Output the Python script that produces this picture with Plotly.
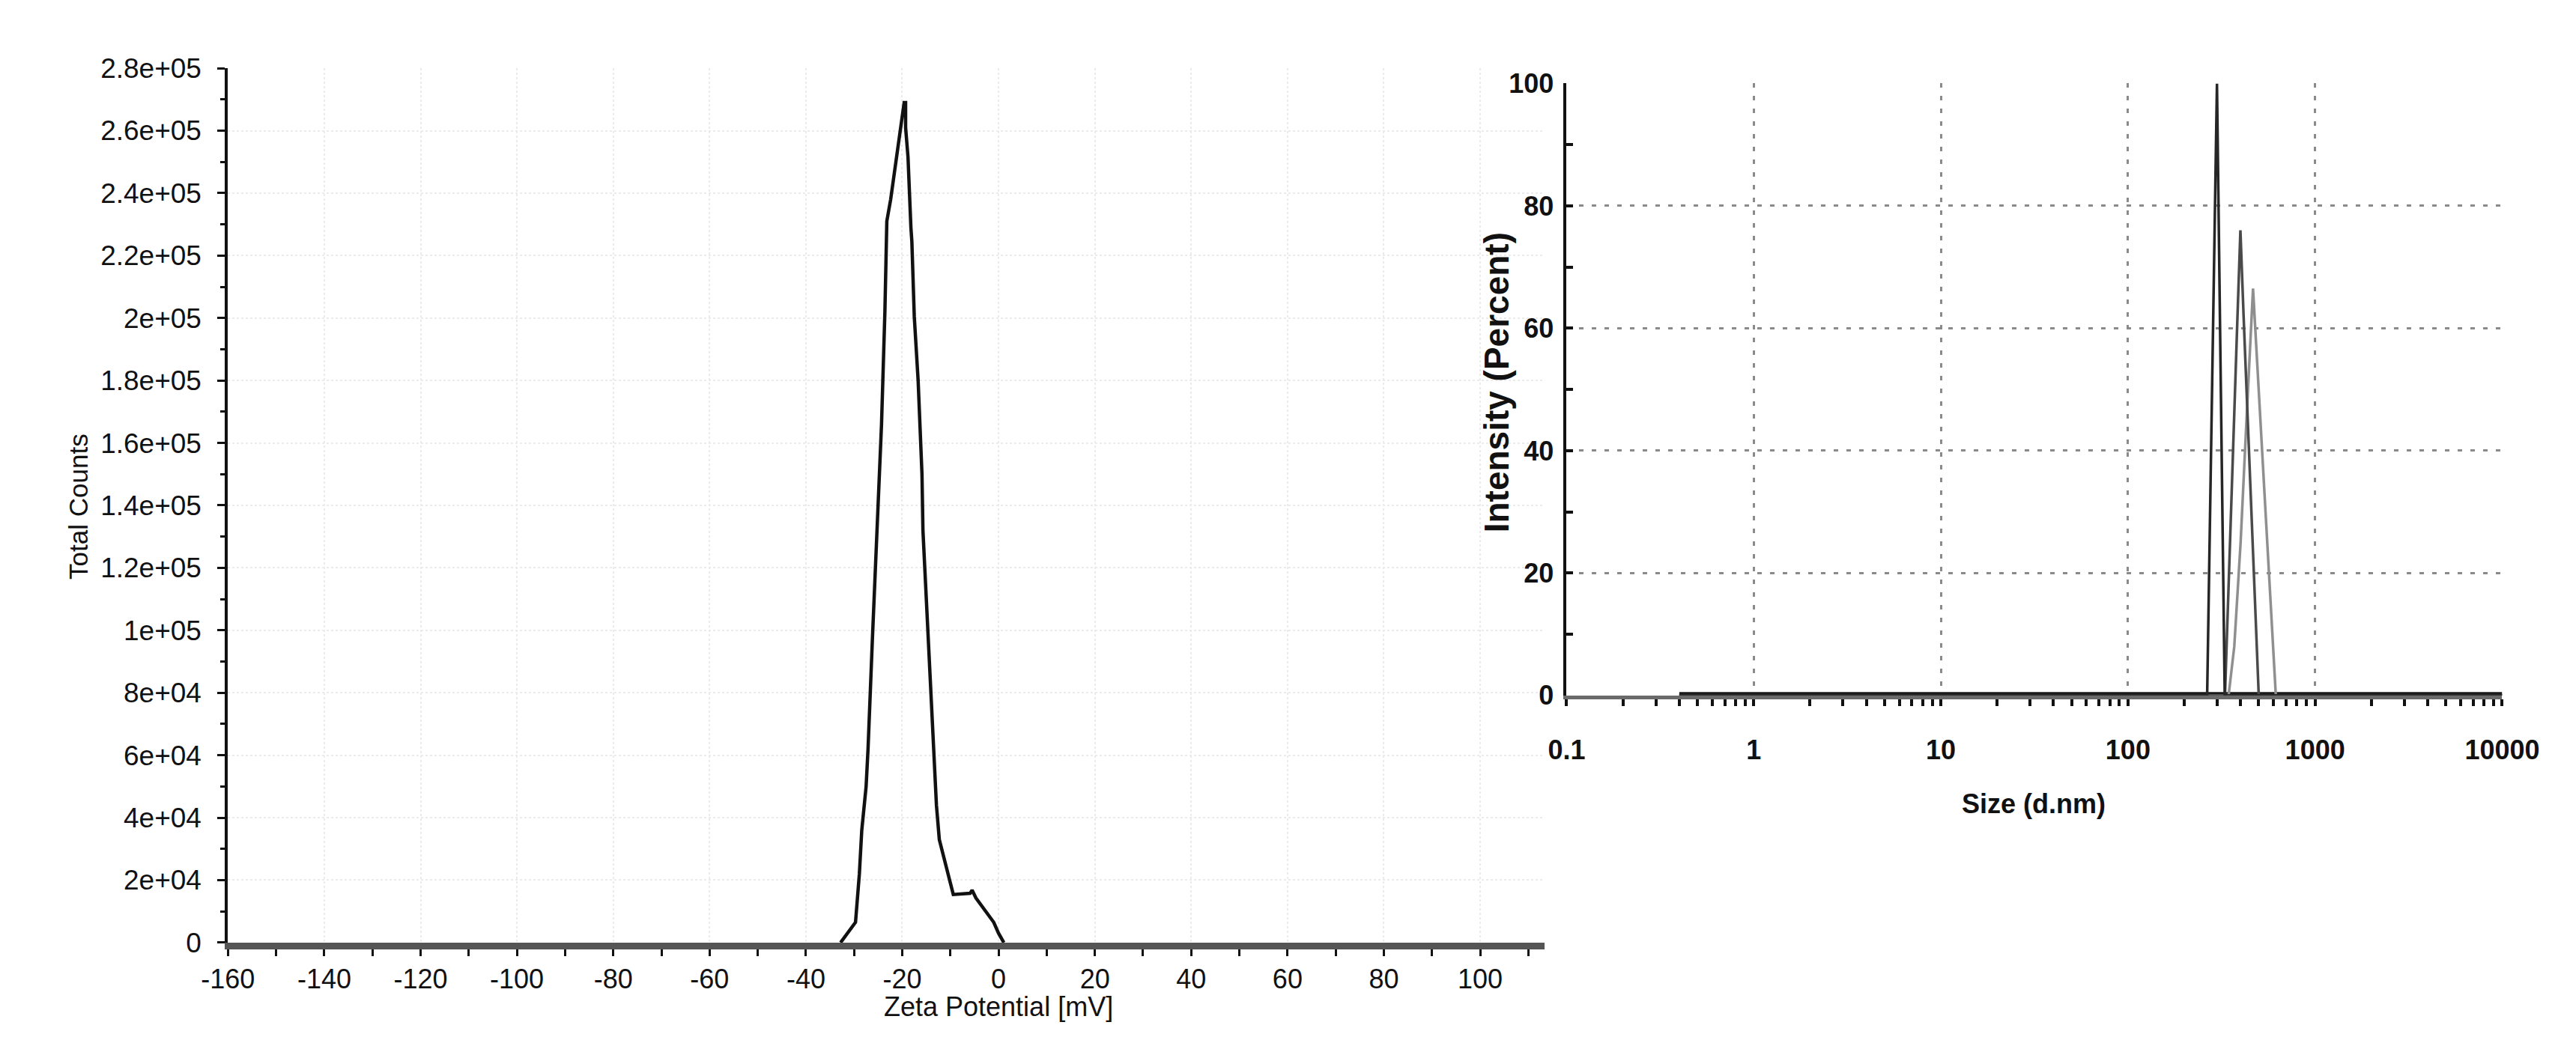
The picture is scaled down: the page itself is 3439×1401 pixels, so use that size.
import plotly.graph_objects as go

# left panel: zeta potential distribution
zeta_mv = [-32.8, -29.7, -28.9, -28.4, -27.5, -27.1, -26.2, -25.2, -24.3, -23.6,
           -23.2, -22.4, -21.8, -21.1, -20.4, -19.6, -19.3, -19.3, -18.8, -18.7,
           -18.2, -18.0, -17.5, -17.5, -16.7, -16.4, -15.9, -15.7, -14.6, -13.4,
           -12.9, -12.3, -9.4, -5.9, -5.5, -4.7, -2.4, -1.0, 0.0, 1.1]
total_counts = [0, 6500, 22000, 36000, 50000, 62000, 97000, 132000, 166000, 202000,
                231000, 238000, 245000, 252000, 260000, 269000, 269000, 261000, 251500, 247000,
                229000, 224500, 206000, 200500, 180000, 170500, 150000, 132000, 97000, 62000,
                44000, 33000, 15400, 15800, 16800, 14300, 9600, 6500, 3000, 0]

zeta_ticks = [-160, -140, -120, -100, -80, -60, -40, -20, 0, 20, 40, 60, 80, 100]
zeta_ticktext = ["-160", "-140", "-120", "-100", "-80", "-60", "-40", "-20", "0",
                 "20", "40", "60", "80", "100"]
count_ticks = [0, 20000, 40000, 60000, 80000, 100000, 120000, 140000, 160000,
               180000, 200000, 220000, 240000, 260000, 280000]
count_ticktext = ["0", "2e+04", "4e+04", "6e+04", "8e+04", "1e+05", "1.2e+05", "1.4e+05",
                  "1.6e+05", "1.8e+05", "2e+05", "2.2e+05", "2.4e+05", "2.6e+05", "2.8e+05"]

# right panel: size distribution by intensity, three runs
run1_size = [0.4, 265, 299, 329, 10000]
run1_int = [0, 0, 100, 0, 0]
run2_size = [0.4, 330, 383, 399, 415, 440, 500, 10000]
run2_int = [0, 0, 60, 76, 62, 43, 0, 0]
run3_size = [0.4, 345, 370, 400, 430, 455, 466, 617, 10000]
run3_int = [0, 0, 8, 25, 45, 60, 66.5, 0, 0]
base_size = [0.4, 10000]
base_int = [0, 0]

size_ticks = [0.1, 1, 10, 100, 1000, 10000]
size_ticktext = ["0.1", "1", "10", "100", "1000", "10000"]
int_ticks = [0, 20, 40, 60, 80, 100]

W, H = 3439, 1401
font_l = "Liberation Sans, Arial, sans-serif"
font_r = "Liberation Sans Narrow, Liberation Sans, Arial, sans-serif"

fig = go.Figure()

fig.add_trace(go.Scatter(x=zeta_mv, y=total_counts, mode="lines",
                         line=dict(color="#111111", width=4.5),
                         xaxis="x", yaxis="y", showlegend=False))

fig.add_trace(go.Scatter(x=base_size, y=base_int, mode="lines",
                         line=dict(color="#1a1a1a", width=9),
                         xaxis="x2", yaxis="y2", showlegend=False, cliponaxis=False))
for sx, sy, col in [(run3_size, run3_int, "#8f8f8f"),
                    (run2_size, run2_int, "#4a4a4a"),
                    (run1_size, run1_int, "#262626")]:
    fig.add_trace(go.Scatter(x=sx, y=sy, mode="lines",
                             line=dict(color=col, width=3.5),
                             xaxis="x2", yaxis="y2", showlegend=False))

minor_log = [m * 10 ** e for e in range(-1, 4) for m in range(2, 10)]

fig.update_layout(
    width=W, height=H, autosize=False,
    margin=dict(l=0, r=0, t=0, b=0),
    paper_bgcolor="white", plot_bgcolor="white",
    xaxis=dict(
        domain=[267 / W, 2070 / W], range=[-160, 113.4], anchor="y",
        tickmode="array", tickvals=zeta_ticks, ticktext=zeta_ticktext,
        ticks="outside", ticklen=9, tickwidth=3, tickcolor="#111",
        minor=dict(tickmode="linear", tick0=-150, dtick=20, ticks="outside",
                   ticklen=9, tickwidth=3, tickcolor="#111"),
        showline=True, linecolor="#555555", linewidth=9,
        showgrid=True, gridcolor="#ebebeb", griddash="dot", gridwidth=2,
        zeroline=False, ticklabelstandoff=0,
        tickfont=dict(family=font_l, size=36, color="#111"),
    ),
    yaxis=dict(
        domain=[(H - 1268) / H, (H - 65) / H], range=[0, 280000], anchor="x",
        tickmode="array", tickvals=count_ticks, ticktext=count_ticktext,
        ticks="outside", ticklen=10, tickwidth=3, tickcolor="#111",
        minor=dict(tickmode="linear", tick0=10000, dtick=20000, ticks="outside",
                   ticklen=6, tickwidth=3, tickcolor="#111"),
        showline=True, linecolor="#111111", linewidth=4,
        showgrid=True, gridcolor="#ebebeb", griddash="dot", gridwidth=2,
        zeroline=False, ticklabelstandoff=14,
        tickfont=dict(family=font_l, size=37, color="#111"),
    ),
    xaxis2=dict(
        type="log", domain=[2100 / W, 3381 / W], range=[-1, 4], anchor="y2",
        tickmode="array", tickvals=size_ticks, ticktext=size_ticktext,
        ticks="outside", ticklen=9, tickwidth=4, tickcolor="#111",
        minor=dict(tickmode="array", tickvals=minor_log, ticks="outside",
                   ticklen=9, tickwidth=4, tickcolor="#111"),
        showline=True, linecolor="#6a6a6a", linewidth=5,
        showgrid=True, gridcolor="#8a8a8a", griddash="6px,11px", gridwidth=3,
        zeroline=False, ticklabelstandoff=28,
        tickfont=dict(family=font_r, size=36, color="#111", weight="bold"),
    ),
    yaxis2=dict(
        domain=[(H - 928) / H, (H - 86) / H], range=[0, 100], anchor="x2",
        tickmode="array", tickvals=int_ticks,
        ticks="inside", ticklen=9, tickwidth=4, tickcolor="#111",
        minor=dict(tickmode="linear", tick0=10, dtick=20, ticks="inside",
                   ticklen=9, tickwidth=4, tickcolor="#111"),
        showline=True, linecolor="#111111", linewidth=4,
        showgrid=True, gridcolor="#8a8a8a", griddash="6px,11px", gridwidth=3,
        zeroline=False, ticklabelstandoff=6,
        tickfont=dict(family=font_r, size=36, color="#111", weight="bold"),
    ),
    annotations=[
        dict(text="Zeta Potential [mV]", x=0, y=(H - 1356) / H, xref="x", yref="paper",
             xanchor="center", yanchor="middle", showarrow=False,
             font=dict(family=font_l, size=36, color="#111")),
        dict(text="Total Counts", x=62 / W, y=(H - 668) / H, xref="paper", yref="paper",
             xanchor="center", yanchor="middle", textangle=-90, showarrow=False,
             font=dict(family=font_l, size=35, color="#111")),
        dict(text="Intensity (Percent)", x=2005 / W, y=(H - 497) / H, xref="paper", yref="paper",
             xanchor="center", yanchor="middle", textangle=-90, showarrow=False,
             font=dict(family=font_l, size=46, color="#111", weight="bold")),
        dict(text="Size (d.nm)", x=2740 / W, y=(H - 1077) / H, xref="paper", yref="paper",
             xanchor="center", yanchor="middle", showarrow=False,
             font=dict(family=font_r, size=36, color="#111", weight="bold")),
    ],
)

fig.write_html("out.html")
